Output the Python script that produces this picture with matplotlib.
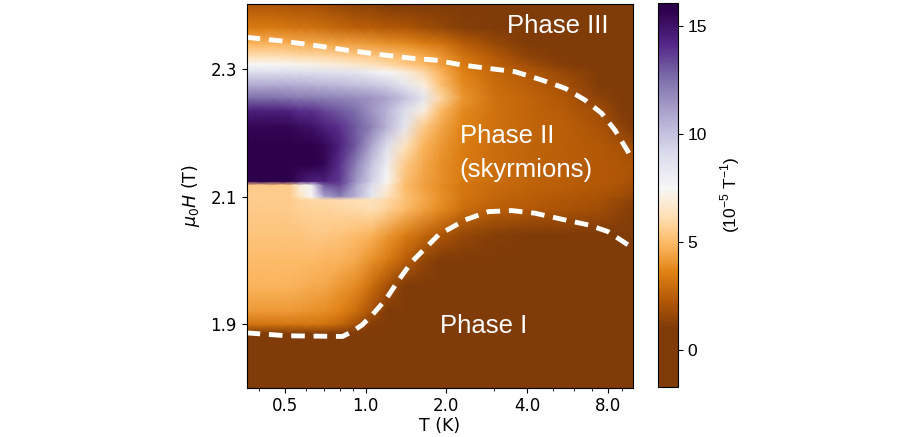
import numpy as np
import matplotlib
matplotlib.use("Agg")
import matplotlib.pyplot as plt
from matplotlib.colors import LinearSegmentedColormap, Normalize
from matplotlib.ticker import FixedLocator, FormatStrFormatter, NullFormatter

# grid nodes (T in K, field in T)
temps = [0.36, 0.45, 0.52, 0.57, 0.63, 0.70, 0.80, 0.92, 1.05, 1.2,
         1.4, 1.65, 1.9, 2.3, 3.0, 4.0, 5.5, 7.5, 9.0, 10.0]
fields = [1.80, 1.885, 1.90, 1.92, 1.96, 2.00, 2.04, 2.08, 2.095, 2.10,
          2.118, 2.124, 2.15, 2.18, 2.21, 2.235, 2.255, 2.275, 2.295,
          2.307, 2.32, 2.34, 2.365, 2.40]

# dchi/dH in 1e-5 T^-1, one row per field value (bottom -> top)
dchi = [
    [0.5, 0.5, 0.5, 0.5, 0.5, 0.5, 0.5, 0.5, 0.3, 0.3, 0.2, 0.2, 0.2, 0.2, 0.2, 0.2, 0.2, 0.2, 0.2, 0.2],
    [0.8, 0.8, 0.8, 0.8, 0.8, 0.8, 0.7, 0.6, 0.5, 0.3, 0.2, 0.2, 0.2, 0.2, 0.2, 0.2, 0.2, 0.2, 0.2, 0.2],
    [3.2, 3.2, 3.3, 3.3, 3.3, 3.2, 2.8, 2.0, 1.2, 0.6, 0.3, 0.2, 0.2, 0.2, 0.2, 0.2, 0.2, 0.2, 0.2, 0.2],
    [4.2, 4.2, 4.2, 4.1, 4.0, 3.9, 3.6, 3.0, 2.0, 1.0, 0.5, 0.3, 0.2, 0.2, 0.2, 0.2, 0.2, 0.2, 0.2, 0.2],
    [4.8, 4.8, 4.8, 4.7, 4.6, 4.5, 4.2, 3.8, 3.0, 2.0, 1.0, 0.5, 0.3, 0.2, 0.2, 0.2, 0.2, 0.2, 0.2, 0.2],
    [5.0, 5.0, 5.0, 5.0, 5.0, 4.9, 4.8, 4.5, 4.0, 3.4, 2.5, 1.5, 1.0, 0.5, 0.3, 0.2, 0.2, 0.2, 0.2, 0.2],
    [5.3, 5.3, 5.3, 5.3, 5.4, 5.4, 5.3, 5.1, 4.8, 4.2, 3.5, 2.8, 2.2, 1.6, 1.2, 1.0, 0.8, 0.6, 0.4, 0.3],
    [5.5, 5.5, 5.6, 5.7, 5.8, 5.8, 5.9, 6.0, 6.2, 5.8, 5.0, 4.3, 3.8, 3.0, 2.5, 2.3, 2.1, 1.8, 1.4, 1.1],
    [5.6, 5.6, 5.6, 5.8, 6.0, 6.0, 6.1, 6.2, 6.3, 6.0, 5.2, 4.5, 4.0, 3.2, 2.7, 2.5, 2.2, 2.0, 1.6, 1.3],
    [5.6, 5.6, 5.6, 6.5, 7.5, 11.0, 12.0, 10.5, 8.5, 6.5, 5.2, 4.5, 4.0, 3.3, 2.8, 2.6, 2.3, 2.1, 1.8, 1.5],
    [5.5, 5.5, 5.5, 7.0, 8.0, 13.0, 13.5, 11.0, 9.0, 7.0, 5.0, 4.3, 3.9, 3.3, 2.9, 2.7, 2.5, 2.3, 2.1, 1.9],
    [15.8, 15.8, 15.8, 15.0, 14.5, 14.5, 13.8, 11.5, 9.5, 7.5, 5.2, 4.4, 4.0, 3.4, 3.0, 2.7, 2.5, 2.3, 2.2, 2.0],
    [15.8, 15.8, 15.8, 15.8, 15.8, 15.5, 14.0, 12.0, 10.0, 8.0, 5.5, 4.5, 4.0, 3.4, 3.0, 2.7, 2.5, 2.3, 2.2, 2.1],
    [16.0, 16.0, 16.0, 16.0, 16.0, 15.5, 14.5, 13.0, 11.0, 9.0, 6.5, 4.8, 4.2, 3.5, 3.0, 2.7, 2.5, 2.3, 2.0, 1.7],
    [15.5, 15.5, 15.5, 15.2, 15.0, 14.5, 14.0, 13.0, 12.0, 10.5, 8.5, 5.5, 4.5, 3.6, 3.1, 2.8, 2.5, 2.1, 1.4, 0.9],
    [14.5, 14.5, 14.3, 14.0, 14.0, 13.5, 13.0, 12.5, 11.5, 10.5, 9.0, 7.0, 5.0, 3.8, 3.1, 2.7, 2.4, 1.8, 0.8, 0.5],
    [12.5, 12.5, 12.3, 12.2, 12.2, 12.0, 11.9, 11.7, 11.5, 11.0, 10.0, 8.5, 6.0, 4.1, 3.1, 2.7, 2.2, 1.3, 0.5, 0.3],
    [10.8, 10.8, 10.8, 10.7, 10.6, 10.4, 10.3, 10.1, 9.9, 9.5, 8.5, 7.0, 5.2, 3.8, 3.0, 2.5, 2.0, 0.9, 0.3, 0.2],
    [9.0, 9.0, 9.0, 8.9, 8.8, 8.8, 8.7, 8.5, 8.0, 7.5, 7.0, 6.0, 4.8, 3.6, 2.8, 2.3, 1.6, 0.6, 0.2, 0.2],
    [7.5, 7.5, 7.4, 7.3, 7.2, 7.0, 6.9, 6.6, 6.3, 6.0, 5.5, 5.0, 4.3, 3.4, 2.6, 1.9, 1.1, 0.3, 0.2, 0.2],
    [6.2, 6.2, 6.1, 6.0, 6.0, 5.9, 5.8, 5.6, 5.5, 5.2, 5.0, 4.6, 4.2, 3.2, 2.4, 1.4, 0.7, 0.2, 0.2, 0.2],
    [4.8, 4.8, 4.7, 4.6, 4.6, 4.5, 4.4, 4.3, 4.2, 4.0, 3.8, 3.5, 3.2, 2.5, 1.7, 0.9, 0.4, 0.2, 0.2, 0.2],
    [3.4, 3.4, 3.3, 3.2, 3.1, 3.0, 2.8, 2.6, 2.5, 2.3, 2.2, 1.9, 1.6, 1.2, 0.8, 0.3, 0.2, 0.2, 0.2, 0.2],
    [2.2, 2.2, 2.1, 2.0, 2.0, 1.8, 1.6, 1.4, 1.3, 1.1, 1.0, 0.7, 0.5, 0.3, 0.2, 0.2, 0.2, 0.2, 0.2, 0.2],
]

# phase boundaries (dashed)
upper_T = [0.36, 0.476, 0.634, 0.843, 1.12, 1.49, 1.82, 2.29, 2.87, 3.61,
           4.53, 5.54, 6.57, 7.58, 8.49, 9.51, 9.66]
upper_H = [2.3497, 2.3444, 2.3376, 2.3298, 2.323, 2.3168, 2.314, 2.3063, 2.301,
           2.2958, 2.2828, 2.2698, 2.2514, 2.2306, 2.2044, 2.1704, 2.165]
lower_T = [0.36, 0.51, 0.82, 0.893, 0.972, 1.059, 1.187, 1.33, 1.49, 1.67,
           1.87, 2.35, 2.87, 3.51, 4.28, 5.38, 6.76, 8.0, 9.51, 9.66]
lower_H = [1.886, 1.8815, 1.8804, 1.8883, 1.8987, 1.9144, 1.938, 1.9693, 1.998,
           2.019, 2.0398, 2.0633, 2.0763, 2.0779, 2.0738, 2.0644, 2.0555, 2.045,
           2.0241, 2.021]

x_ticks = [0.5, 1.0, 2.0, 4.0, 8.0]
y_ticks = [1.9, 2.1, 2.3]
cbar_ticks = [0, 5, 10, 15]

vmin, vmax = -1.7, 16.1
# PuOr-like palette, orange side compressed
stops = [(-1.7, "#7f3b08"), (1.0, "#7f3b08"), (2.3, "#b35806"), (3.6, "#e08214"),
         (4.9, "#fdb863"), (6.2, "#fee0b6"), (7.5, "#f7f7f7"), (9.2, "#d8daeb"),
         (10.8, "#b2abd2"), (12.5, "#8073ac"), (14.2, "#542788"), (15.8, "#2d004b"),
         (16.1, "#2d004b")]
cmap = LinearSegmentedColormap.from_list(
    "puor_c", [((v - vmin) / (vmax - vmin), c) for v, c in stops])

fig = plt.figure(figsize=(9, 4.37), dpi=100)
ax = fig.add_axes([0.274, 0.1128, 0.429, 0.878])
cax = fig.add_axes([0.7314, 0.1151, 0.0216, 0.879])

ax.set_xscale("log")
X, Y = np.meshgrid(temps, fields)
mesh = ax.pcolormesh(X, Y, np.array(dchi), cmap=cmap,
                     norm=Normalize(vmin=vmin, vmax=vmax), shading="gouraud")

dash = dict(color="white", lw=3.5, linestyle=(0, (2.8, 1.8)), dash_capstyle="butt")
ax.plot(upper_T, upper_H, **dash)
ax.plot(lower_T, lower_H, **dash)

ax.set_xlim(0.36, 9.9)
ax.set_ylim(1.80, 2.402)
ax.xaxis.set_major_locator(FixedLocator(x_ticks))
ax.xaxis.set_major_formatter(FormatStrFormatter("%.1f"))
ax.xaxis.set_minor_formatter(NullFormatter())
ax.set_yticks(y_ticks)
ax.yaxis.set_major_formatter(FormatStrFormatter("%.1f"))
ax.tick_params(labelsize=12)
ax.set_xlabel("T (K)", fontsize=12.5, labelpad=1)
ax.set_ylabel(r"$\mu_0H$ (T)", fontsize=12.5, labelpad=6)

lab = dict(color="white", fontsize=18.5, family="Liberation Sans",
           ha="left", va="baseline")
ax.text(3.36, 2.356, "Phase III", **lab)
ax.text(2.25, 2.1845, "Phase II", **lab)
ax.text(2.24, 2.1312, "(skyrmions)", **lab)
ax.text(1.89, 1.8857, "Phase I", **lab)

cb = fig.colorbar(mesh, cax=cax, ticks=cbar_ticks)
cb.outline.set_linewidth(0.8)
cb.ax.tick_params(labelsize=12.5)
for t in cb.ax.get_yticklabels():
    t.set_family("Liberation Sans")
cb.set_label(r"(10$^{\mathregular{-5}}$ T$^{\mathregular{-1}}$)",
             fontsize=12.5, family="Liberation Sans", labelpad=8)

fig.savefig("out.png", dpi=100)
